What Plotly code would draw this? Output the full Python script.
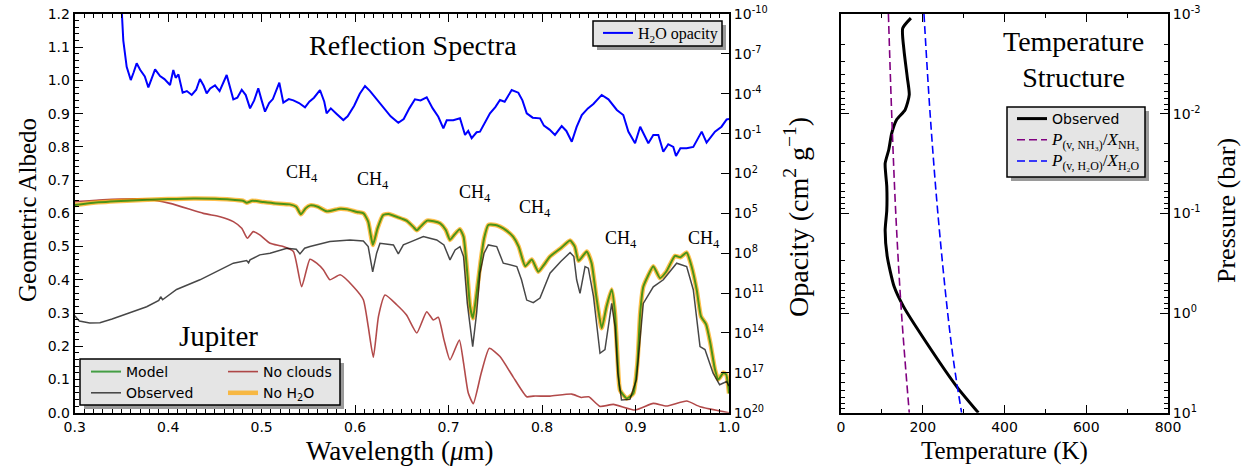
import plotly.graph_objects as go

W, H = 1242, 467

# ---------------- data: reflection spectra ----------------
model_wl = [0.300, 0.320, 0.356, 0.400, 0.427, 0.450, 0.466, 0.480, 0.484, 0.490, 0.502, 0.515,
            0.530, 0.537, 0.542, 0.547, 0.552, 0.560, 0.570, 0.584, 0.592, 0.602, 0.609, 0.614,
            0.619, 0.624, 0.630, 0.636, 0.645, 0.655, 0.662, 0.666, 0.670, 0.677, 0.684, 0.691,
            0.697, 0.7015, 0.706, 0.712, 0.716, 0.720, 0.723, 0.726, 0.730, 0.734, 0.738, 0.7425,
            0.750, 0.755, 0.762, 0.769, 0.775, 0.782, 0.789, 0.796, 0.802, 0.8085, 0.820, 0.830,
            0.835, 0.839, 0.8478, 0.853, 0.858, 0.8638, 0.869, 0.8745, 0.878, 0.881, 0.8834,
            0.8906, 0.8976, 0.902, 0.905, 0.9083, 0.913, 0.919, 0.9262, 0.933, 0.9422, 0.948,
            0.9547, 0.960, 0.9655, 0.970, 0.9755, 0.980, 0.985, 0.9886, 0.994, 0.997, 1.000]
model_albedo = [0.625, 0.632, 0.638, 0.643, 0.645, 0.644, 0.642, 0.638, 0.632, 0.638, 0.634, 0.630,
                0.627, 0.620, 0.597, 0.615, 0.624, 0.620, 0.606, 0.614, 0.612, 0.604, 0.600, 0.575,
                0.505, 0.555, 0.595, 0.598, 0.589, 0.578, 0.560, 0.549, 0.560, 0.578, 0.576, 0.570,
                0.550, 0.520, 0.535, 0.552, 0.530, 0.420, 0.319, 0.284, 0.360, 0.450, 0.525, 0.565,
                0.565, 0.560, 0.548, 0.530, 0.500, 0.441, 0.461, 0.424, 0.445, 0.470, 0.495, 0.518,
                0.500, 0.457, 0.485, 0.450, 0.350, 0.254, 0.320, 0.371, 0.300, 0.150, 0.068,
                0.043, 0.058, 0.150, 0.300, 0.379, 0.410, 0.441, 0.405, 0.425, 0.472, 0.468,
                0.482, 0.440, 0.369, 0.290, 0.266, 0.210, 0.130, 0.100, 0.120, 0.115, 0.058]
no_h2o_albedo = list(model_albedo)

obs_wl = [0.300, 0.305, 0.316, 0.327, 0.340, 0.3627, 0.377, 0.390, 0.392, 0.394, 0.409, 0.434,
          0.4555, 0.4697, 0.484, 0.486, 0.4876, 0.498, 0.509, 0.527, 0.537, 0.541, 0.546, 0.5517,
          0.573, 0.5945, 0.6088, 0.614, 0.6188, 0.623, 0.6266, 0.641, 0.6462, 0.6516, 0.660,
          0.673, 0.680, 0.6873, 0.695, 0.7015, 0.707, 0.7122, 0.716, 0.720, 0.7258, 0.730,
          0.7336, 0.738, 0.7425, 0.7515, 0.7585, 0.765, 0.773, 0.778, 0.7836, 0.7906, 0.7978,
          0.8085, 0.820, 0.830, 0.834, 0.837, 0.8406, 0.846, 0.8495, 0.855, 0.862, 0.8673,
          0.8745, 0.878, 0.881, 0.885, 0.894, 0.901, 0.9083, 0.919, 0.9297, 0.944, 0.9547,
          0.9618, 0.969, 0.9743, 0.983, 0.990, 0.9975, 1.000]
obs_albedo = [0.292, 0.276, 0.270, 0.271, 0.282, 0.304, 0.319, 0.338, 0.349, 0.340, 0.371, 0.400,
              0.430, 0.450, 0.458, 0.451, 0.460, 0.475, 0.480, 0.495, 0.492, 0.478, 0.495, 0.500,
              0.515, 0.520, 0.517, 0.500, 0.424, 0.480, 0.510, 0.505, 0.478, 0.505, 0.515,
              0.530, 0.525, 0.520, 0.505, 0.460, 0.490, 0.500, 0.470, 0.330, 0.199, 0.300,
              0.420, 0.480, 0.505, 0.500, 0.450, 0.445, 0.440, 0.400, 0.339, 0.331, 0.345,
              0.420, 0.455, 0.482, 0.470, 0.400, 0.359, 0.440, 0.435, 0.350, 0.179, 0.190,
              0.329, 0.260, 0.120, 0.038, 0.040, 0.100, 0.329, 0.379, 0.400, 0.450, 0.440,
              0.370, 0.199, 0.190, 0.119, 0.084, 0.094, 0.080]

nocloud_wl = [0.300, 0.330, 0.3734, 0.402, 0.4376, 0.4555, 0.4697, 0.4787, 0.4847, 0.491, 0.498,
              0.509, 0.523, 0.534, 0.5428, 0.5517, 0.5589, 0.566, 0.573, 0.584, 0.598, 0.6088,
              0.614, 0.6195, 0.625, 0.632, 0.6445, 0.655, 0.666, 0.6766, 0.6837, 0.689, 0.695,
              0.7015, 0.7115, 0.716, 0.721, 0.7264, 0.735, 0.7436, 0.755, 0.769, 0.7836,
              0.7906, 0.8085, 0.8318, 0.842, 0.850, 0.862, 0.8763, 0.8995, 0.919, 0.933,
              0.9547, 0.969, 1.000]
nocloud_albedo = [0.635, 0.641, 0.643, 0.630, 0.600, 0.590, 0.575, 0.555, 0.525, 0.545, 0.535,
                  0.510, 0.500, 0.485, 0.379, 0.462, 0.450, 0.430, 0.400, 0.415, 0.380, 0.340,
                  0.260, 0.167, 0.290, 0.354, 0.325, 0.294, 0.240, 0.304, 0.279, 0.287, 0.220,
                  0.159, 0.219, 0.150, 0.060, 0.027, 0.120, 0.194, 0.169, 0.108, 0.048,
                  0.050, 0.050, 0.056, 0.046, 0.048, 0.019, 0.025, 0.008, 0.028, 0.020,
                  0.035, 0.018, 0.000]

h2o_wl = [0.3490, 0.3503, 0.3520, 0.3556, 0.3600, 0.3630, 0.3663, 0.3700, 0.3750, 0.3788, 0.3830,
          0.3860, 0.3913, 0.3960, 0.4020, 0.4055, 0.4080, 0.4110, 0.4155, 0.4200, 0.4252, 0.4300,
          0.4340, 0.4380, 0.4412, 0.4450, 0.4501, 0.4550, 0.4626, 0.4660, 0.4697, 0.4740, 0.4787,
          0.4830, 0.4876, 0.4920, 0.4964, 0.5000, 0.5036, 0.5080, 0.5120, 0.5189, 0.5232, 0.5290,
          0.5340, 0.5400, 0.5464, 0.5510, 0.5560, 0.5624, 0.5670, 0.5695, 0.5740, 0.5800, 0.5874,
          0.5920, 0.5990, 0.6050, 0.6106, 0.6160, 0.6230, 0.6300, 0.6380, 0.6462, 0.6520, 0.6580,
          0.6640, 0.6700, 0.6766, 0.6830, 0.6890, 0.6944, 0.6980, 0.7050, 0.7122, 0.7176, 0.7210,
          0.7247, 0.7300, 0.7336, 0.7443, 0.7500, 0.7550, 0.7600, 0.7675, 0.7746, 0.7790, 0.7836,
          0.7900, 0.7978, 0.8020, 0.8080, 0.8138, 0.8210, 0.8260, 0.8318, 0.8370, 0.8425, 0.8490,
          0.8549, 0.8600, 0.8638, 0.8710, 0.8800, 0.8869, 0.8923, 0.8995, 0.9050, 0.9137, 0.9190,
          0.9244, 0.9297, 0.9350, 0.9404, 0.9433, 0.9480, 0.9547, 0.9618, 0.9708, 0.9760, 0.9850,
          0.9920, 0.9975, 1.0000]
h2o_log_opacity = [-12.0, -10.0, -8.0, -6.03, -5.03, -5.6, -6.29, -5.8, -5.3, -4.48, -5.2,
                   -5.84, -5.33, -5.1, -4.66, -5.79, -5.2, -5.45, -4.08, -4.2, -3.91, -4.3,
                   -5.11, -4.6, -4.03, -4.4, -4.63, -4.2, -5.41, -4.6, -3.58, -3.7, -4.3,
                   -3.9, -2.90, -3.5, -4.41, -3.5, -2.65, -3.3, -3.6, -4.83, -3.33, -3.6,
                   -3.5, -3.3, -2.98, -3.4, -3.7, -4.28, -3.4, -2.53, -2.9, -2.5, -2.02,
                   -2.3, -3.1, -4.0, -4.58, -4.2, -3.6, -3.0, -2.3, -1.82, -2.1, -2.9,
                   -3.58, -3.5, -3.73, -2.9, -2.27, -1.4, -2.0, -2.0, -2.15, -0.90, -1.2,
                   -0.65, -1.1, -1.15, -2.53, -3.0, -3.53, -3.4, -4.28, -4.08, -3.5, -2.53,
                   -2.2, -2.15, -1.6, -1.3, -0.90, -1.57, -1.2, -0.39, -1.5, -2.40, -2.9,
                   -3.23, -3.6, -3.91, -3.58, -2.78, -2.4, -1.15, -0.27, -1.52, -0.27, -0.9,
                   -0.9, 0.36, -0.2, 0.0, 0.68, 0.1, 0.1, 0.0, -1.15, -0.32, -1.15,
                   -1.52, -2.07, -2.1]
h2o_opacity = [10 ** e for e in h2o_log_opacity]

opacity_tick_vals = [1e-10, 1e-7, 1e-4, 1e-1, 1e2, 1e5, 1e8, 1e11, 1e14, 1e17, 1e20]
opacity_tick_text = ["10<sup>-10</sup>", "10<sup>-7</sup>", "10<sup>-4</sup>", "10<sup>-1</sup>",
                     "10<sup>2</sup>", "10<sup>5</sup>", "10<sup>8</sup>", "10<sup>11</sup>",
                     "10<sup>14</sup>", "10<sup>17</sup>", "10<sup>20</sup>"]

# ---------------- data: temperature structure ----------------
obs_pressure = [0.0011, 0.00139, 0.00229, 0.00427, 0.00646, 0.00912, 0.0115, 0.0158, 0.0229,
                0.0316, 0.0537, 0.0933, 0.148, 0.269, 0.543, 0.863, 2.01, 5.47, 10.0]
obs_temperature = [171, 151, 154, 162, 167, 157, 136, 124, 117, 108, 112, 112, 108, 113, 130,
                   153, 210, 283, 336]
nh3_pressure = [0.001, 0.01, 0.1, 1.0, 10.0]
nh3_temperature = [116, 124, 134, 148, 167]
h2o_pressure = [0.001, 0.01, 0.1, 1.0, 3.16, 10.0]
h2o_temperature = [203, 218, 237, 261, 276, 295]

pressure_tick_vals = [1e-3, 1e-2, 1e-1, 1, 10]
pressure_tick_text = ["10<sup>-3</sup>", "10<sup>-2</sup>", "10<sup>-1</sup>",
                      "10<sup>0</sup>", "10<sup>1</sup>"]

ch4_labels = [(0.543, 0.72), (0.619, 0.70), (0.728, 0.66), (0.792, 0.615), (0.884, 0.52), (0.973, 0.52)]

# ---------------- styling helpers ----------------
SERIF = "Liberation Serif"
SANS = "DejaVu Sans"


def fx(p):
    return p / W


def fy(p):
    return 1 - p / H


L_X0, L_X1 = 74.7, 729.0
R_X0, R_X1 = 841.0, 1168.0
P_Y0, P_Y1 = 14.0, 412.7

fig = go.Figure()

fig.add_trace(go.Scatter(x=nocloud_wl, y=nocloud_albedo, mode="lines", name="No clouds",
                         line=dict(color="rgba(165,42,42,0.85)", width=1.6, shape="spline", smoothing=0.5),
                         xaxis="x", yaxis="y", legend="legend2", legendrank=1))
fig.add_trace(go.Scatter(x=model_wl, y=no_h2o_albedo, mode="lines", name="No H<sub>2</sub>O",
                         line=dict(color="rgba(255,165,0,0.7)", width=4.5, shape="spline", smoothing=0.5),
                         xaxis="x", yaxis="y", legend="legend2", legendrank=2))
fig.add_trace(go.Scatter(x=model_wl, y=model_albedo, mode="lines", name="Model",
                         line=dict(color="rgba(0,128,0,0.7)", width=2, shape="spline", smoothing=0.5),
                         xaxis="x", yaxis="y", legend="legend", legendrank=1))
fig.add_trace(go.Scatter(x=obs_wl, y=obs_albedo, mode="lines", name="Observed",
                         line=dict(color="rgba(0,0,0,0.72)", width=1.5),
                         xaxis="x", yaxis="y", legend="legend", legendrank=2))
fig.add_trace(go.Scatter(x=h2o_wl, y=h2o_opacity, mode="lines", name="H<sub>2</sub>O opacity",
                         line=dict(color="#0000ff", width=2),
                         xaxis="x", yaxis="y2", legend="legend3"))

fig.add_trace(go.Scatter(x=obs_temperature, y=obs_pressure, mode="lines", name="Observed",
                         line=dict(color="black", width=3, shape="spline", smoothing=0.6),
                         xaxis="x2", yaxis="y3", legend="legend4", legendrank=1))
fig.add_trace(go.Scatter(x=nh3_temperature, y=nh3_pressure, mode="lines",
                         name='<span style="font-family:Liberation Serif;font-size:17px"><i>P</i><sub>(v, NH₃)</sub>/<i>X</i><sub>NH₃</sub></span>',
                         line=dict(color="#800080", width=1.6, dash="8px,4px", shape="spline"),
                         xaxis="x2", yaxis="y3", legend="legend4", legendrank=2))
fig.add_trace(go.Scatter(x=h2o_temperature, y=h2o_pressure, mode="lines",
                         name='<span style="font-family:Liberation Serif;font-size:17px"><i>P</i><sub>(v, H₂O)</sub>/<i>X</i><sub>H₂O</sub></span>',
                         line=dict(color="#0000ff", width=1.6, dash="8px,4px", shape="spline"),
                         xaxis="x2", yaxis="y3", legend="legend4", legendrank=3))

tickfont = dict(family=SANS, size=14, color="black")
common = dict(showline=True, linecolor="black", linewidth=2, ticks="inside", tickcolor="black",
              tickwidth=1.2, ticklen=8, showgrid=False, zeroline=False, tickfont=tickfont,
              automargin=False)

layout = dict(
    width=W, height=H, margin=dict(l=0, r=0, t=0, b=0, autoexpand=False),
    paper_bgcolor="white", plot_bgcolor="white",
    xaxis=dict(domain=[fx(L_X0), fx(L_X1)], range=[0.3, 1.0], dtick=0.1, tick0=0.3, tickformat=".1f",
               anchor="y", mirror="ticks",
               minor=dict(dtick=0.01, ticklen=4, ticks="inside", tickcolor="black", tickwidth=1), **common),
    yaxis=dict(domain=[fy(P_Y1), fy(P_Y0)], range=[0, 1.2], dtick=0.1, tickformat=".1f", anchor="x",
               minor=dict(dtick=0.02, ticklen=4, ticks="inside", tickcolor="black", tickwidth=1), **common),
    yaxis2=dict(overlaying="y", side="right", type="log", range=[20, -10], anchor="x",
                tickmode="array", tickvals=opacity_tick_vals, ticktext=opacity_tick_text, **common),
    xaxis2=dict(domain=[fx(R_X0), fx(R_X1)], range=[0, 800], dtick=200, anchor="y3", mirror="ticks",
                minor=dict(dtick=100, ticklen=4, ticks="inside", tickcolor="black", tickwidth=1), **common),
    yaxis3=dict(domain=[fy(P_Y1), fy(P_Y0)], type="log", range=[1, -3], side="right", anchor="x2",
                mirror="ticks", tickmode="array", tickvals=pressure_tick_vals, ticktext=pressure_tick_text,
                minor=dict(tickmode="array",
                           tickvals=[m * 10.0 ** e for e in range(-3, 1) for m in range(2, 10)],
                           ticklen=4, ticks="inside", tickcolor="black", tickwidth=1),
                **common),
    showlegend=True,
    legend=dict(x=fx(86), y=fy(356), xanchor="left", yanchor="top", bgcolor="rgba(0,0,0,0)",
                borderwidth=0, font=dict(family=SANS, size=14, color="black"), tracegroupgap=0),
    legend2=dict(x=fx(223), y=fy(356), xanchor="left", yanchor="top", bgcolor="rgba(0,0,0,0)",
                 borderwidth=0, font=dict(family=SANS, size=14, color="black"), tracegroupgap=0),
    legend3=dict(x=fx(598), y=fy(16), xanchor="left", yanchor="top", bgcolor="rgba(0,0,0,0)",
                 borderwidth=0, font=dict(family=SERIF, size=16, color="black")),
    legend4=dict(x=fx(1012), y=fy(103), xanchor="left", yanchor="top", bgcolor="rgba(0,0,0,0)",
                 borderwidth=0, font=dict(family=SANS, size=14, color="black"), tracegroupgap=0),
)

shapes = []
for (x0, y0, x1, y1) in [(80, 359, 340, 405), (593, 21, 722, 46), (1007, 107, 1145, 177)]:
    shapes.append(dict(type="rect", xref="paper", yref="paper", x0=fx(x0 + 4), x1=fx(x1 + 4),
                       y0=fy(y1 + 4), y1=fy(y0 + 4), fillcolor="#9a9a9a", line=dict(width=0), layer="above"))
    shapes.append(dict(type="rect", xref="paper", yref="paper", x0=fx(x0), x1=fx(x1),
                       y0=fy(y1), y1=fy(y0), fillcolor="#e5e5e5", line=dict(color="black", width=1.5),
                       layer="above"))
layout["shapes"] = shapes


def serif(size):
    return dict(family=SERIF, size=size, color="black")


annotations = [
    dict(text="Reflection Spectra", x=fx(413), y=fy(46), font=serif(28)),
    dict(text="Jupiter", x=fx(218), y=fy(336), font=serif(29)),
    dict(text="Temperature<br>Structure", x=fx(1073), y=fy(60), font=serif(28)),
    dict(text="Geometric Albedo", x=fx(27), y=fy(210), textangle=-90, font=serif(25)),
    dict(text="Wavelength (<i>μ</i>m)", x=fx(400), y=fy(451), font=serif(27)),
    dict(text="Opacity (cm<sup>2</sup> g<sup>−1</sup>)", x=fx(797), y=fy(217), textangle=-90, font=serif(28)),
    dict(text="Temperature (K)", x=fx(1004), y=fy(451), font=serif(25)),
    dict(text="Pressure (bar)", x=fx(1226), y=fy(211), textangle=-90, font=serif(26)),
]
for (wl, a) in ch4_labels:
    annotations.append(dict(text="CH<sub>4</sub>", x=wl, y=a, xref="x", yref="y", font=serif(18)))
for a in annotations:
    a.setdefault("xref", "paper")
    a.setdefault("yref", "paper")
    a["showarrow"] = False
    a["xanchor"] = "center"
    a["yanchor"] = "middle"
layout["annotations"] = annotations

fig.update_layout(**layout)
fig.write_html("out.html")
